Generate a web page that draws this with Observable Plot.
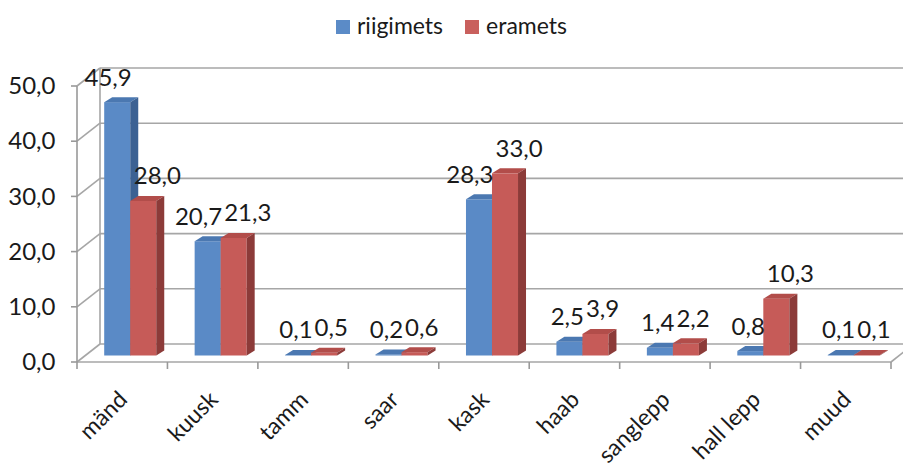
<!DOCTYPE html>
<html>
<head>
<meta charset="utf-8">
<script src="https://cdn.jsdelivr.net/npm/d3@7"></script>
<script src="https://cdn.jsdelivr.net/npm/@observablehq/plot@0.6"></script>
<style>
  body { margin: 0; background: #fff; font-family: Lato, "Open Sans", sans-serif; }
  #legend { width: 903px; height: 44px; display: flex; justify-content: center; align-items: flex-start; padding-top: 12px; box-sizing: border-box; font-size: 23px; color: #1a1a1a; line-height: 26px; }
  .item { display: flex; align-items: center; margin: 0 11px; }
  .sw { width: 14px; height: 14px; margin-right: 7px; margin-top: 3px; }
</style>
</head>
<body>
<div id="legend"></div>
<div id="chart"></div>
<script>
const categories = ["mänd", "kuusk", "tamm", "saar", "kask", "haab", "sanglepp", "hall lepp", "muud"];
const riigimets = [45.9, 20.7, 0.1, 0.2, 28.3, 2.5, 1.4, 0.8, 0.1];
const eramets = [28.0, 21.3, 0.5, 0.6, 33.0, 3.9, 2.2, 10.3, 0.1];
const seriesNames = ["riigimets", "eramets"];
const yTicks = [0, 10, 20, 30, 40, 50];

const colors = {
  riigimets: {front: "#5A8AC6", top: "#4B78B1", side: "#3C6193", legend: "#5B8BC7"},
  eramets: {front: "#C65B58", top: "#B24D4A", side: "#8C3B39", legend: "#C9605D"}
};

const fmt = v => d3.format(".1f")(v).replace(".", ",");
const data = categories.map((c, i) => ({cat: c, riigimets: riigimets[i], eramets: eramets[i]}));

// 3D offsets (pixels) relative to the bar plane
const DEPTH = {dx: 8, dy: -5};
const FRONT = {dx: -8, dy: 6.5};
const BACK = {dx: 15, dy: -11.5};
const grid = "#A6A6A6";
const ink = "#1a1a1a";
const fs = 24;

// legend
const legend = d3.select("#legend");
for (const s of seriesNames) {
  const it = legend.append("div").attr("class", "item");
  it.append("div").attr("class", "sw").style("background", colors[s].legend);
  it.append("span").text(s);
}

function bar3d(series) {
  const c = colors[series];
  return (index, scales, values, dimensions, context, next) => {
    const g = next(index, scales, values, dimensions, context);
    const ns = "http://www.w3.org/2000/svg";
    for (const r of Array.from(g.querySelectorAll("rect"))) {
      const x = +r.getAttribute("x"), y = +r.getAttribute("y");
      const w = +r.getAttribute("width"), h = +r.getAttribute("height");
      const {dx, dy} = DEPTH;
      const top = document.createElementNS(ns, "path");
      top.setAttribute("d", `M${x},${y}L${x + w},${y}L${x + w + dx},${y + dy}L${x + dx},${y + dy}Z`);
      top.setAttribute("fill", c.top);
      const side = document.createElementNS(ns, "path");
      side.setAttribute("d", `M${x + w},${y}L${x + w + dx},${y + dy}L${x + w + dx},${y + h + dy}L${x + w},${y + h}Z`);
      side.setAttribute("fill", c.side);
      r.after(top, side);
    }
    return g;
  };
}

function frame3d(index, scales, values, dimensions) {
  const {x, y} = scales;
  const x0 = dimensions.marginLeft;
  const x1 = dimensions.width - dimensions.marginRight;
  const y0 = y(0), yTop = y(d3.max(yTicks));
  const g = d3.create("svg:g").attr("fill", "none").attr("stroke-width", 1.6);
  const line = (ax, ay, bx, by, color) =>
    g.append("line").attr("x1", ax).attr("y1", ay).attr("x2", bx).attr("y2", by).attr("stroke", color);
  // back wall gridlines and left edge
  for (const t of yTicks) line(x0 + BACK.dx, y(t) + BACK.dy, x1 + BACK.dx, y(t) + BACK.dy, grid);
  line(x0 + BACK.dx, y0 + BACK.dy, x0 + BACK.dx, yTop + BACK.dy, grid);
  // left wall diagonals
  for (const t of yTicks) line(x0 + FRONT.dx, y(t) + FRONT.dy, x0 + BACK.dx, y(t) + BACK.dy, grid);
  // floor front + right edge
  line(x0 + FRONT.dx, y0 + FRONT.dy, x1 + FRONT.dx, y0 + FRONT.dy, grid);
  line(x1 + FRONT.dx, y0 + FRONT.dy, x1 + BACK.dx, y0 + BACK.dy, grid);
  // front y axis and ticks
  line(x0 + FRONT.dx, y0 + FRONT.dy, x0 + FRONT.dx, yTop + FRONT.dy, "#999");
  for (const t of yTicks) line(x0 + FRONT.dx - 6, y(t) + FRONT.dy, x0 + FRONT.dx, y(t) + FRONT.dy, "#999");
  // category ticks at band boundaries
  const bounds = categories.map(c => x(c)).concat([x1]);
  for (const b of bounds) line(b + FRONT.dx, y0 + FRONT.dy, b + FRONT.dx, y0 + FRONT.dy + 7, "#999");
  return g.node();
}

const chart = Plot.plot({
  width: 903,
  height: 419,
  marginLeft: 85,
  marginRight: 4,
  marginTop: 35.5,
  marginBottom: 107.5,
  x: {type: "band", domain: categories, padding: 0, round: false, axis: null},
  y: {domain: [0, 50], axis: null},
  style: {fontFamily: "Lato, 'Open Sans', sans-serif", fontSize: "24px", background: "#fff", overflow: "visible"},
  marks: [
    frame3d,
    Plot.text(yTicks, {frameAnchor: "left", y: d => d, text: d => fmt(d), textAnchor: "end", dx: -30, dy: FRONT.dy, fill: ink, fontSize: fs}),
    Plot.barY(data, {x: "cat", y: "riigimets", fill: colors.riigimets.front, insetLeft: 19.2, insetRight: 45.2, render: bar3d("riigimets")}),
    Plot.barY(data, {x: "cat", y: "eramets", fill: colors.eramets.front, insetLeft: 45.2, insetRight: 19.2, render: bar3d("eramets")}),
    Plot.text(data, {x: "cat", y: "riigimets", text: d => fmt(d.riigimets), textAnchor: "end", dx: 1, dy: -17, lineAnchor: "bottom", fill: ink, fontSize: fs}),
    Plot.text(data, {x: "cat", y: "eramets", text: d => fmt(d.eramets), textAnchor: "start", dx: 3, dy: -17, lineAnchor: "bottom", fill: ink, fontSize: fs}),
    Plot.text(categories, {x: d => d, frameAnchor: "bottom", text: d => d, rotate: -45, textAnchor: "end", lineAnchor: "bottom", dx: -2, dy: 45, fill: ink, fontSize: 23})
  ]
});
document.getElementById("chart").append(chart);
</script>
</body>
</html>
